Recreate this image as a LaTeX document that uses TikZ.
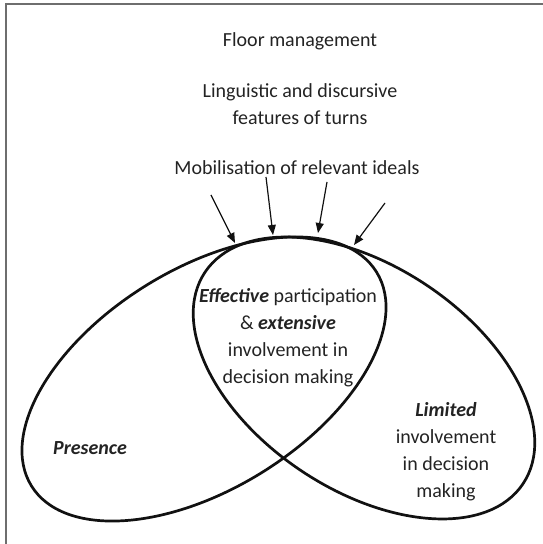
\documentclass[tikz,border=0pt]{standalone}
\usepackage{fontspec}
\setmainfont{Carlito}
\usetikzlibrary{arrows.meta,shapes.geometric}
\definecolor{textgray}{HTML}{232323}
\definecolor{framegray}{HTML}{6E6E6E}
\definecolor{linecol}{HTML}{111111}
\begin{document}
\begin{tikzpicture}[x=1pt,y=1pt,
  txt/.style={font=\fontsize{20}{27}\selectfont, text=textgray, align=center, inner sep=0pt},
  oval/.style={ellipse, draw=linecol, line width=2.7pt, inner sep=0pt},
  arr/.style={draw=linecol, line width=1.2pt, -{Triangle[length=10pt,width=8pt]}}]
\useasboundingbox (0,0) rectangle (543,544);
\draw[framegray, line width=1.6pt] (6,-2) -- (6,540) -- (546,540);
% top texts
\node[txt] (floor) at (300,503) {Floor management};
\node[txt] (ling) at (300,439.5) {Linguistic and discursive\\features of turns};
\node[txt] (mob) at (297,376) {Mobilisation of relevant ideals};
% ovals
\node[oval, minimum width=406pt, minimum height=220pt, rotate=31.8] (presenceoval) at (204,165) {};
\node[oval, minimum width=382pt, minimum height=224pt, rotate=-33.6] (limitedoval) at (364,166) {};
% oval texts
\node[txt] (eff) at (288,206.5) {\textbf{\textit{Effective}} participation\\\& \textbf{\textit{extensive}}\\involvement in\\decision making};
\node[txt] (pres) at (90,96) {\textbf{\textit{Presence}}};
\node[txt] (lim) at (446,92.5) {\textbf{\textit{Limited}}\\involvement\\in decision\\making};
% arrows
\coordinate (s1) at (211,349); \coordinate (e1) at (235,301);
\coordinate (s2) at (266,367); \coordinate (e2) at (273,309);
\coordinate (s3) at (327,362); \coordinate (e3) at (318,311);
\coordinate (s4) at (385,341); \coordinate (e4) at (354,299);
\draw[arr] (s1) -- (e1);
\draw[arr] (s2) -- (e2);
\draw[arr] (s3) -- (e3);
\draw[arr] (s4) -- (e4);
\end{tikzpicture}
\end{document}
